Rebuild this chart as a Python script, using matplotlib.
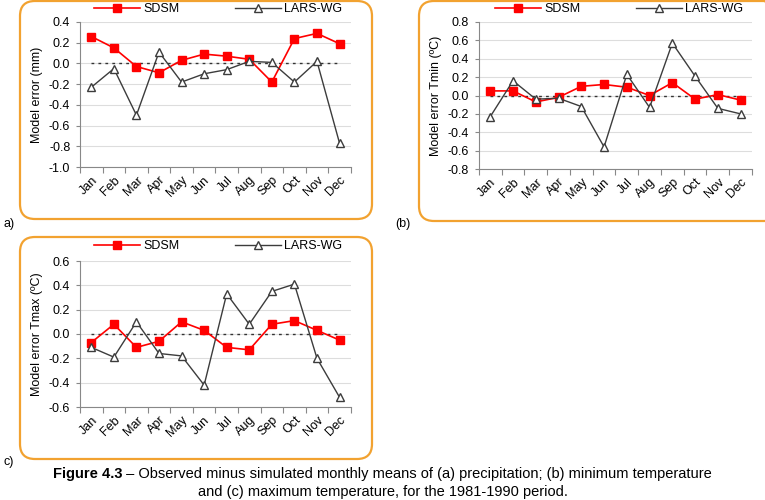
import matplotlib
matplotlib.use("Agg")
import matplotlib.pyplot as plt
from matplotlib.patches import FancyBboxPatch
import numpy as np

plt.rcParams['font.family'] = ['Liberation Sans', 'DejaVu Sans']

meses = ["Jan", "Feb", "Mar", "Apr", "May", "Jun", "Jul", "Aug", "Sep", "Oct", "Nov", "Dec"]

# (a) precipitacion
sdsm_prec = [0.26, 0.15, -0.03, -0.09, 0.03, 0.09, 0.07, 0.04, -0.18, 0.24, 0.29, 0.19]
lars_prec = [-0.23, -0.05, -0.50, 0.11, -0.18, -0.10, -0.06, 0.02, 0.01, -0.18, 0.02, -0.77]

# (b) temperatura minima
sdsm_tmin = [0.05, 0.05, -0.07, -0.02, 0.10, 0.12, 0.09, 0.00, 0.14, -0.04, 0.01, -0.05]
lars_tmin = [-0.23, 0.16, -0.04, -0.03, -0.12, -0.56, 0.23, -0.13, 0.57, 0.21, -0.14, -0.20]

# (c) temperatura maxima
sdsm_tmax = [-0.07, 0.08, -0.11, -0.06, 0.10, 0.03, -0.11, -0.13, 0.08, 0.11, 0.03, -0.05]
lars_tmax = [-0.11, -0.19, 0.10, -0.16, -0.18, -0.42, 0.33, 0.08, 0.35, 0.41, -0.20, -0.52]

NARANJA = "#F2A230"
ROJO = "#FF0000"
GRIS = "#3C3C3C"
FS = 9

fig = plt.figure(figsize=(7.65, 5.0), dpi=100)

# marcos naranja redondeados (en pulgadas)
for (x0, y0, w, h) in [(0.20, 2.81, 3.52, 2.18), (4.19, 2.79, 3.60, 2.20), (0.20, 0.41, 3.52, 2.22)]:
    caja = FancyBboxPatch((x0, y0), w, h, boxstyle="round,pad=0,rounding_size=0.15",
                          transform=fig.dpi_scale_trans, fill=False,
                          edgecolor=NARANJA, linewidth=1.6, clip_on=False)
    fig.patches.append(caja)


def graficar_panel(ax, sdsm, lars, ylim, ylabel, leg_x, leg_y):
    x = np.arange(len(meses))
    ax.set_xlim(-0.5, len(meses) - 0.5)
    ax.set_ylim(*ylim)
    ticks = np.round(np.arange(ylim[0], ylim[1] + 0.1, 0.2), 1)
    ax.set_yticks(ticks)
    ax.set_yticklabels([f"{t:.1f}".replace("-0.0", "0.0") for t in ticks])
    ax.grid(axis="y", color="#DDDDDD", linewidth=0.8)
    ax.set_axisbelow(True)
    ax.plot([x[0], x[-1]], [0, 0], color="#333333", linestyle=(0, (2, 3)), linewidth=1.0)
    l1, = ax.plot(x, sdsm, color=ROJO, marker="s", markersize=5.5, linewidth=1.2, label="SDSM")
    l2, = ax.plot(x, lars, color=GRIS, marker="^", markersize=6, markerfacecolor="white",
                  markeredgecolor=GRIS, linewidth=1.0, label="LARS-WG")
    ax.set_xticks(np.arange(-0.5, len(meses), 1.0))
    ax.set_xticklabels([])
    ax.set_xticks(x, minor=True)
    ax.set_xticklabels(meses, minor=True, rotation=45, ha="right", rotation_mode="anchor", fontsize=FS)
    ax.tick_params(axis="x", which="minor", length=0, pad=5)
    ax.tick_params(axis="x", which="major", length=4, color="#888888")
    ax.tick_params(axis="y", length=3, color="#888888", labelsize=FS, pad=4)
    for lado in ["top", "right"]:
        ax.spines[lado].set_visible(False)
    for lado in ["left", "bottom"]:
        ax.spines[lado].set_color("#888888")
        ax.spines[lado].set_linewidth(0.8)
    ax.set_ylabel(ylabel, fontsize=FS, labelpad=4)
    ax.legend(handles=[l1, l2], loc="center left", bbox_to_anchor=(leg_x, leg_y), ncol=2,
              frameon=False, fontsize=FS, handlelength=3.7, columnspacing=4.4,
              borderaxespad=0, borderpad=0, handletextpad=0.25)


ax_a = fig.add_axes([0.1046, 0.666, 0.354, 0.29])
graficar_panel(ax_a, sdsm_prec, lars_prec, (-1.0, 0.4), "Model error (mm)", 0.052, 1.09)

ax_b = fig.add_axes([0.626, 0.662, 0.357, 0.294])
graficar_panel(ax_b, sdsm_tmin, lars_tmin, (-0.8, 0.8), "Model error Tmin (ºC)", 0.059, 1.088)

ax_c = fig.add_axes([0.1046, 0.186, 0.354, 0.292])
graficar_panel(ax_c, sdsm_tmax, lars_tmax, (-0.6, 0.6), "Model error Tmax (ºC)", 0.052, 1.10)

fig.text(3 / 765, 1 - 224 / 500, "a)", fontsize=FS, va="center")
fig.text(395 / 765, 1 - 224 / 500, "(b)", fontsize=FS, va="center")
fig.text(3 / 765, 1 - 462 / 500, "c)", fontsize=FS, va="center")

# leyenda de la figura: parte en negrita + resto normal, centrado
fuente_cap = ['Liberation Sans Narrow', 'Liberation Sans', 'DejaVu Sans']
t_neg = fig.text(0, 1 - 474 / 500, "Figure 4.3", fontsize=10.5, fontweight="bold",
                 va="center", ha="left", family=fuente_cap)
t_res = fig.text(0, 1 - 474 / 500,
                 " – Observed minus simulated monthly means of (a) precipitation; (b) minimum temperature",
                 fontsize=10.5, va="center", ha="left", family=fuente_cap)
rend = fig.canvas.get_renderer()
w1 = t_neg.get_window_extent(rend).width
w2 = t_res.get_window_extent(rend).width
x0 = (765 - (w1 + w2)) / 2
t_neg.set_x(x0 / 765)
t_res.set_x((x0 + w1) / 765)
fig.text(0.5, 1 - 492 / 500,
         "and (c) maximum temperature, for the 1981-1990 period.",
         ha="center", va="center", fontsize=10.5, family=fuente_cap)

fig.savefig("out.png", dpi=100)
